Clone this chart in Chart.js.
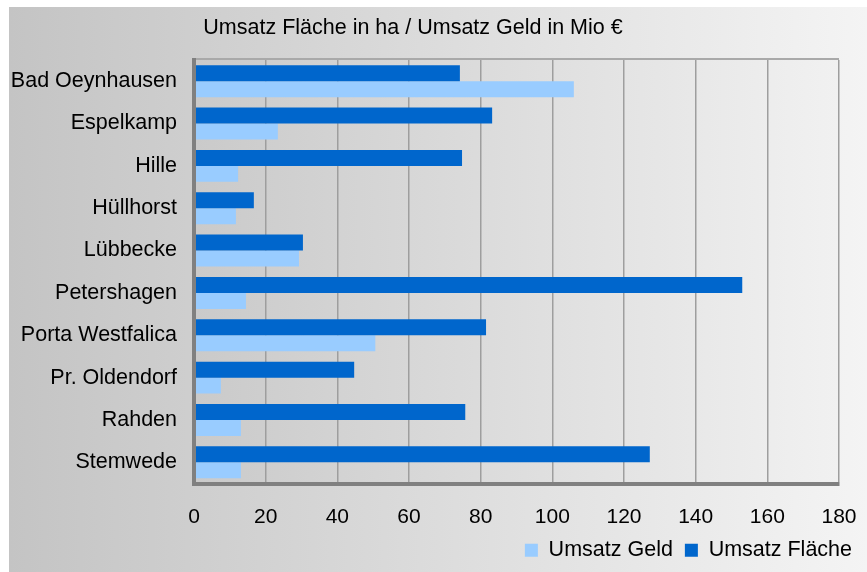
<!DOCTYPE html>
<html>
<head>
<meta charset="utf-8">
<title>Umsatz Fläche / Umsatz Geld</title>
<script src="https://cdn.jsdelivr.net/npm/chart.js@4/dist/chart.umd.min.js"></script>
<style>
  html, body { margin: 0; padding: 0; background: #fff; }
  #wrap { width: 867px; height: 572px; }
</style>
</head>
<body>
<div id="wrap"><canvas id="myChart" width="867" height="572"></canvas></div>
<script>
const titleText = 'Umsatz Fläche in ha / Umsatz Geld in Mio €'
const places = ['Bad Oeynhausen', 'Espelkamp', 'Hille', 'Hüllhorst', 'Lübbecke',
  'Petershagen', 'Porta Westfalica', 'Pr. Oldendorf', 'Rahden', 'Stemwede']
// Umsatz Fläche in ha
const umsatzFlaeche = [74.2, 83.2, 74.8, 16.7, 30.4, 153.0, 81.5, 44.7, 75.7, 127.2]
// Umsatz Geld in Mio €
const umsatzGeld = [106.0, 23.4, 12.3, 11.7, 29.3, 14.5, 50.6, 7.5, 13.1, 13.1]
const xTicks = [0, 20, 40, 60, 80, 100, 120, 140, 160, 180]

const font = { family: '"Liberation Sans", Arial, sans-serif', size: 21.5 }
const tickFont = { family: '"Liberation Sans", Arial, sans-serif', size: 21 }

/* grey background, plot area and the title, drawn before the chart */
const backdrop = {
  id: 'backdrop',
  beforeDraw: (chart) => {
    const { ctx, chartArea: a, width, height } = chart
    ctx.save()
    ctx.fillStyle = '#fff'
    ctx.fillRect(0, 0, width, height)

    let g = ctx.createLinearGradient(9, 0, width, 0)
    g.addColorStop(0, '#c4c4c4')
    g.addColorStop(1, '#f4f4f4')
    ctx.fillStyle = g
    ctx.fillRect(9, 7, width - 9, height - 7)

    g = ctx.createLinearGradient(a.left, 0, a.right, 0)
    g.addColorStop(0, '#cacaca')
    g.addColorStop(1, '#f1f1f1')
    ctx.fillStyle = g
    ctx.fillRect(a.left, a.top, a.right - a.left, a.bottom - a.top)

    ctx.strokeStyle = '#a9a9a9'
    ctx.lineWidth = 2
    ctx.beginPath()
    ctx.moveTo(a.left, a.top - 1)
    ctx.lineTo(a.right, a.top - 1)
    ctx.stroke()

    ctx.fillStyle = '#000'
    ctx.font = `${font.size}px ${font.family}`
    ctx.textAlign = 'center'
    ctx.textBaseline = 'middle'
    ctx.fillText(titleText, 413, 28)
    ctx.restore()
  }
}

const drawChart = () => {
  const ctx = document.getElementById('myChart').getContext('2d')
  new Chart(ctx, {
    type: 'bar',
    data: {
      labels: places,
      datasets: [
        { label: 'Umsatz Fläche', data: umsatzFlaeche, backgroundColor: '#0066cc' },
        { label: 'Umsatz Geld', data: umsatzGeld, backgroundColor: '#99ccff' }
      ]
    },
    options: {
      indexAxis: 'y',
      responsive: false,
      animation: false,
      devicePixelRatio: 1,
      categoryPercentage: 0.755,
      barPercentage: 1,
      layout: { padding: { left: 9, top: 60, right: 3, bottom: 1 } },
      scales: {
        x: {
          position: 'bottom',
          min: xTicks[0],
          max: xTicks[xTicks.length - 1],
          ticks: { stepSize: xTicks[1] - xTicks[0], font: tickFont, color: '#000', padding: 21, maxRotation: 0 },
          grid: { color: '#9e9e9e', lineWidth: 1.5, drawTicks: false },
          border: { color: '#808080', width: 4, z: 1 },
          afterFit: (scale) => {
            scale.height = 44
            scale.paddingRight = 28
          }
        },
        y: {
          ticks: { font, color: '#000', padding: 17 },
          grid: { display: false, drawTicks: false },
          border: { color: '#808080', width: 4, z: 1 },
          afterFit: (scale) => { scale.width = 185 }
        }
      },
      plugins: {
        legend: {
          position: 'bottom',
          align: 'end',
          reverse: true,
          labels: { font, color: '#000', boxWidth: 13, boxHeight: 13, padding: 12 }
        },
        tooltip: { enabled: false }
      }
    },
    plugins: [backdrop]
  })
}

window.addEventListener('load', drawChart)
</script>
</body>
</html>
